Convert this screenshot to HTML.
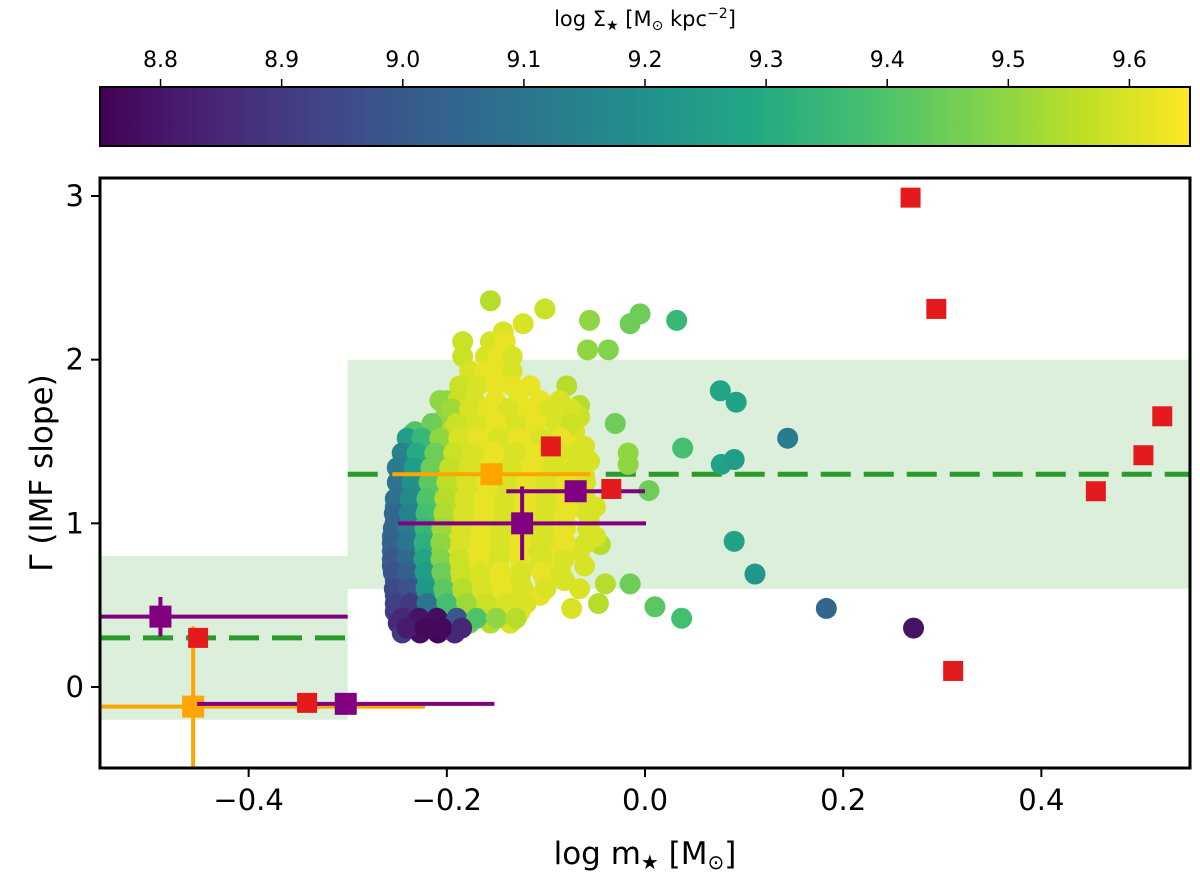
<!DOCTYPE html>
<html><head><meta charset="utf-8"><style>
html,body{margin:0;padding:0;background:#fff;}
svg{display:block;font-family:"DejaVu Sans","Liberation Sans",sans-serif;}
</style></head><body>
<svg id="chart" width="1200" height="878" viewBox="0 0 1200 878" xmlns="http://www.w3.org/2000/svg">
<defs>
<linearGradient id="viridis" x1="0" x2="1" y1="0" y2="0">
<stop offset="0" stop-color="#440154"/><stop offset="0.1" stop-color="#482475"/><stop offset="0.2" stop-color="#414487"/><stop offset="0.3" stop-color="#355f8d"/><stop offset="0.4" stop-color="#2a788e"/><stop offset="0.5" stop-color="#21918c"/><stop offset="0.6" stop-color="#22a884"/><stop offset="0.7" stop-color="#44bf70"/><stop offset="0.8" stop-color="#7ad151"/><stop offset="0.9" stop-color="#bddf26"/><stop offset="1" stop-color="#fde725"/>
</linearGradient>
<clipPath id="plotclip"><rect x="100" y="178" width="1090" height="590"/></clipPath>
</defs>
<g id="cbar"></g>
<g id="plot"></g>
<g id="axes"></g>
</svg>
<script>
// axis ranges
const xDomain = [-0.55, 0.55];
const yDomain = [-0.495, 3.11];
const cDomain = [8.75, 9.65];
const xTicks = [-0.4, -0.2, 0.0, 0.2, 0.4];
const xTickLabels = ["\u22120.4", "\u22120.2", "0.0", "0.2", "0.4"];
const yTicks = [0, 1, 2, 3];
const yTickLabels = ["0", "1", "2", "3"];
const cTicks = [8.8, 8.9, 9.0, 9.1, 9.2, 9.3, 9.4, 9.5, 9.6];
const cTickLabels = ["8.8","8.9","9.0","9.1","9.2","9.3","9.4","9.5","9.6"];

// shaded bands
const bandX0 = [-0.55, -0.3];
const bandX1 = [-0.3, 0.55];
const bandY0 = [-0.2, 0.6];
const bandY1 = [0.8, 2.0];
const dashLevel = [0.3, 1.3];

// scatter points
const gX = [
-0.156,-0.101,-0.056,-0.005,-0.015,0.032,-0.123,-0.143,-0.058,-0.037,-0.184,
0.076,0.092,0.144,0.077,0.090,0.038,0.090,0.111,0.183,0.271,0.010,0.037,0.004,
-0.017,-0.017,-0.030,-0.040,-0.047,-0.066,-0.074,-0.045,-0.015,
-0.234,-0.237,-0.200,-0.079,-0.066,
-0.156,-0.141,-0.184,
-0.161,-0.148,-0.134,
-0.177,-0.161,-0.146,-0.134,
-0.187,-0.169,-0.151,-0.134,-0.116,
-0.207,-0.189,-0.172,-0.151,-0.128,-0.106,-0.086,
-0.202,-0.185,-0.166,-0.146,-0.126,-0.101,-0.081,-0.066,
-0.232,-0.197,-0.177,-0.156,-0.136,-0.116,-0.086,-0.071,
-0.237,-0.222,-0.202,-0.182,-0.161,-0.141,-0.121,-0.096,-0.076,-0.061,
-0.242,-0.227,-0.207,-0.187,-0.166,-0.146,-0.126,-0.101,-0.076,-0.056,
-0.247,-0.229,-0.212,-0.192,-0.172,-0.151,-0.131,-0.106,-0.086,-0.061,
-0.247,-0.232,-0.215,-0.197,-0.177,-0.156,-0.136,-0.111,-0.091,-0.071,
-0.252,-0.235,-0.219,-0.199,-0.179,-0.156,-0.136,-0.116,-0.096,-0.071,-0.050,
-0.252,-0.237,-0.222,-0.202,-0.182,-0.161,-0.141,-0.121,-0.101,-0.081,-0.056,
-0.255,-0.239,-0.222,-0.205,-0.187,-0.166,-0.146,-0.126,-0.106,-0.086,-0.050,
-0.255,-0.239,-0.223,-0.207,-0.189,-0.169,-0.148,-0.128,-0.108,-0.088,-0.066,
-0.255,-0.239,-0.222,-0.207,-0.189,-0.169,-0.148,-0.126,-0.106,-0.086,-0.061,
-0.252,-0.237,-0.219,-0.202,-0.185,-0.166,-0.146,-0.126,-0.101,-0.081,
-0.252,-0.237,-0.222,-0.202,-0.185,-0.169,-0.148,-0.128,-0.106,
-0.252,-0.235,-0.217,-0.197,-0.182,-0.164,-0.146,-0.126,
-0.249,-0.232,-0.215,-0.199,-0.177,-0.156,-0.136,
-0.245,-0.227,-0.209,-0.192,
-0.195,-0.177,-0.158,-0.138,-0.117,-0.096,-0.075,
-0.215,-0.190,-0.170,-0.150,-0.130,-0.110,-0.090,-0.075,
-0.240,-0.225,-0.207,-0.188,-0.168,-0.148,-0.128,-0.105,-0.085,
-0.245,-0.230,-0.212,-0.193,-0.173,-0.152,-0.131,-0.110,-0.088,-0.068,
-0.250,-0.233,-0.216,-0.197,-0.177,-0.156,-0.136,-0.114,-0.092,-0.070,
-0.250,-0.235,-0.218,-0.200,-0.180,-0.160,-0.140,-0.120,-0.100,-0.080,-0.060,
-0.252,-0.237,-0.220,-0.202,-0.182,-0.162,-0.142,-0.122,-0.100,-0.080,-0.060,
-0.253,-0.238,-0.221,-0.203,-0.183,-0.163,-0.143,-0.123,-0.101,-0.080,-0.058,
-0.254,-0.239,-0.222,-0.205,-0.185,-0.165,-0.145,-0.124,-0.102,-0.080,-0.058,
-0.255,-0.240,-0.223,-0.206,-0.186,-0.166,-0.146,-0.125,-0.103,-0.080,-0.060,
-0.255,-0.240,-0.223,-0.206,-0.187,-0.167,-0.147,-0.126,-0.104,-0.082,
-0.254,-0.239,-0.222,-0.205,-0.186,-0.166,-0.146,-0.125,-0.104,-0.085,
-0.253,-0.238,-0.221,-0.203,-0.184,-0.164,-0.144,-0.123,-0.100,
-0.252,-0.237,-0.220,-0.200,-0.180,-0.160,-0.140,-0.120,
-0.245,-0.228,-0.210,-0.190,-0.170,-0.150,-0.130,
-0.240,-0.222,-0.205,-0.185
];
const gY = [
2.36,2.31,2.24,2.28,2.22,2.24,2.22,2.17,2.06,2.06,2.02,
1.81,1.74,1.52,1.36,1.39,1.46,0.89,0.69,0.48,0.36,0.49,0.42,1.20,
1.43,1.36,1.61,0.63,0.51,0.60,0.48,0.87,0.63,
1.55,1.37,1.75,1.84,1.72,
2.11,2.11,2.11,
2.02,2.02,2.02,
1.93,1.93,1.93,1.93,
1.84,1.84,1.84,1.84,1.84,
1.75,1.75,1.75,1.75,1.75,1.75,1.75,
1.65,1.65,1.65,1.65,1.65,1.65,1.65,1.65,
1.56,1.56,1.56,1.56,1.56,1.56,1.56,1.56,
1.47,1.47,1.47,1.47,1.47,1.47,1.47,1.47,1.47,1.47,
1.38,1.38,1.38,1.38,1.38,1.38,1.38,1.38,1.38,1.38,
1.29,1.29,1.29,1.29,1.29,1.29,1.29,1.29,1.29,1.29,
1.20,1.20,1.20,1.20,1.20,1.20,1.20,1.20,1.20,1.20,
1.10,1.10,1.10,1.10,1.10,1.10,1.10,1.10,1.10,1.10,1.10,
1.01,1.01,1.01,1.01,1.01,1.01,1.01,1.01,1.01,1.01,1.01,
0.92,0.92,0.92,0.92,0.92,0.92,0.92,0.92,0.92,0.92,0.92,
0.83,0.83,0.83,0.83,0.83,0.83,0.83,0.83,0.83,0.83,0.83,
0.74,0.74,0.74,0.74,0.74,0.74,0.74,0.74,0.74,0.74,0.74,
0.65,0.65,0.65,0.65,0.65,0.65,0.65,0.65,0.65,0.65,
0.56,0.56,0.56,0.56,0.56,0.56,0.56,0.56,0.56,
0.46,0.46,0.46,0.46,0.46,0.46,0.46,0.46,
0.39,0.39,0.39,0.39,0.39,0.39,0.39,
0.33,0.33,0.33,0.33,
1.70,1.70,1.70,1.70,1.70,1.70,1.70,
1.61,1.61,1.61,1.61,1.61,1.61,1.61,1.61,
1.52,1.52,1.52,1.52,1.52,1.52,1.52,1.52,1.52,
1.43,1.43,1.43,1.43,1.43,1.43,1.43,1.43,1.43,1.43,
1.34,1.34,1.34,1.34,1.34,1.34,1.34,1.34,1.34,1.34,
1.25,1.25,1.25,1.25,1.25,1.25,1.25,1.25,1.25,1.25,1.25,
1.15,1.15,1.15,1.15,1.15,1.15,1.15,1.15,1.15,1.15,1.15,
1.06,1.06,1.06,1.06,1.06,1.06,1.06,1.06,1.06,1.06,1.06,
0.97,0.97,0.97,0.97,0.97,0.97,0.97,0.97,0.97,0.97,0.97,
0.88,0.88,0.88,0.88,0.88,0.88,0.88,0.88,0.88,0.88,0.88,
0.78,0.78,0.78,0.78,0.78,0.78,0.78,0.78,0.78,0.78,
0.70,0.70,0.70,0.70,0.70,0.70,0.70,0.70,0.70,0.70,
0.60,0.60,0.60,0.60,0.60,0.60,0.60,0.60,0.60,
0.51,0.51,0.51,0.51,0.51,0.51,0.51,0.51,
0.42,0.42,0.42,0.42,0.42,0.42,0.42,
0.36,0.36,0.36,0.36
];
const gC = [
9.55,9.58,9.5,9.45,9.45,9.35,9.6,9.6,9.5,9.48,9.58,
9.28,9.27,9.12,9.27,9.25,9.38,9.27,9.22,9.05,8.8,9.42,9.38,9.45,
9.5,9.5,9.45,9.55,9.55,9.6,9.6,9.55,9.45,
9.4,9.3,9.5,9.55,9.55,
9.6,9.62,9.58,
9.6,9.62,9.6,
9.6,9.62,9.62,9.6,
9.58,9.6,9.62,9.62,9.62,
9.5,9.58,9.6,9.62,9.62,9.62,9.6,
9.5,9.58,9.6,9.62,9.62,9.62,9.6,9.58,
9.4,9.55,9.6,9.62,9.6,9.62,9.6,9.6,
9.3,9.42,9.52,9.6,9.62,9.6,9.62,9.6,9.62,9.6,
9.2,9.35,9.5,9.6,9.62,9.6,9.62,9.6,9.62,9.6,
9.15,9.3,9.48,9.58,9.6,9.62,9.6,9.62,9.6,9.6,
9.12,9.25,9.45,9.56,9.6,9.62,9.6,9.62,9.6,9.62,
9.1,9.2,9.42,9.56,9.6,9.62,9.6,9.62,9.6,9.62,9.6,
9.08,9.15,9.38,9.55,9.6,9.62,9.6,9.62,9.6,9.62,9.6,
9.08,9.12,9.35,9.52,9.6,9.62,9.6,9.62,9.6,9.62,9.6,
9.05,9.1,9.3,9.5,9.6,9.62,9.6,9.62,9.6,9.62,9.6,
9.02,9.08,9.28,9.48,9.58,9.62,9.6,9.62,9.6,9.62,9.6,
9.0,9.02,9.25,9.45,9.58,9.6,9.62,9.6,9.62,9.6,
8.95,8.95,9.2,9.42,9.55,9.6,9.62,9.6,9.62,
8.9,8.85,8.85,9.35,9.5,9.58,9.6,9.62,
8.85,8.8,8.78,8.8,9.45,9.55,9.6,
8.9,8.78,8.76,8.85,
9.52,9.6,9.62,9.6,9.62,9.6,9.6,
9.45,9.58,9.6,9.62,9.6,9.62,9.6,9.58,
9.25,9.35,9.5,9.6,9.62,9.6,9.62,9.6,9.62,
9.15,9.3,9.45,9.58,9.6,9.62,9.6,9.62,9.6,9.6,
9.12,9.25,9.45,9.57,9.6,9.62,9.6,9.62,9.6,9.6,
9.1,9.2,9.42,9.56,9.6,9.62,9.6,9.62,9.6,9.62,9.6,
9.08,9.18,9.4,9.55,9.6,9.62,9.6,9.62,9.6,9.62,9.6,
9.05,9.15,9.38,9.54,9.6,9.62,9.6,9.62,9.6,9.62,9.6,
9.05,9.12,9.35,9.52,9.6,9.62,9.6,9.62,9.6,9.62,9.6,
9.03,9.1,9.32,9.5,9.6,9.62,9.6,9.62,9.6,9.62,9.6,
9.0,9.06,9.28,9.48,9.58,9.62,9.6,9.62,9.6,9.6,
8.98,9.03,9.25,9.45,9.58,9.6,9.62,9.6,9.62,9.6,
8.95,8.98,9.22,9.42,9.55,9.6,9.62,9.6,9.6,
8.92,8.9,9.1,9.38,9.52,9.58,9.6,9.6,
8.85,8.8,8.78,9.0,9.4,9.5,9.55,
8.82,8.77,8.77,8.85
];

// red squares
const redX = [-0.451,-0.341,-0.095,-0.034,0.268,0.294,0.311,0.455,0.503,0.522];
const redY = [0.30,-0.097,1.47,1.21,2.99,2.31,0.098,1.196,1.416,1.654];

// orange error bar points
const orX = [-0.155, -0.456];
const orY = [1.30, -0.12];
const orXErr = [0.10, 0.234];
const orYErr = [0.0, 0.49];

// purple error bar points
const puX = [-0.124, -0.070, -0.489, -0.302];
const puY = [1.00, 1.196, 0.43, -0.103];
const puXErr = [0.125, 0.07, 0.189, 0.15];
const puYErr = [0.225, 0.0, 0.12, 0.0];

const NS = "http://www.w3.org/2000/svg";
const PL = 100, PR = 1190, PT = 178, PB = 768;
function sx(v){ return PL + (v - xDomain[0]) / (xDomain[1]-xDomain[0]) * (PR-PL); }
function sy(v){ return PB - (v - yDomain[0]) / (yDomain[1]-yDomain[0]) * (PB-PT); }
function sc(v){ return PL + (v - cDomain[0]) / (cDomain[1]-cDomain[0]) * (PR-PL); }
const vir = ["#440154","#482475","#414487","#355f8d","#2a788e","#21918c","#22a884","#44bf70","#7ad151","#bddf26","#fde725"];
function hex(h){ return [parseInt(h.substr(1,2),16),parseInt(h.substr(3,2),16),parseInt(h.substr(5,2),16)]; }
function cmap(v){
  let t = (v - cDomain[0]) / (cDomain[1]-cDomain[0]);
  t = Math.max(0, Math.min(1, t)) * 10;
  const i = Math.min(9, Math.floor(t)), f = t - i;
  const a = hex(vir[i]), b = hex(vir[i+1]);
  return "rgb(" + a.map((x,k)=>Math.round(x + (b[k]-x)*f)).join(",") + ")";
}
function mk(tag, attrs, parent){
  const e = document.createElementNS(NS, tag);
  for (const k in attrs) e.setAttribute(k, attrs[k]);
  parent.appendChild(e); return e;
}
const plot = document.getElementById("plot");
const axes = document.getElementById("axes");
const cbar = document.getElementById("cbar");
const clipG = mk("g", {"clip-path":"url(#plotclip)"}, plot);

for (let i=0;i<bandX0.length;i++){
  const r = mk("rect", {x:sx(bandX0[i]), y:sy(bandY1[i]), width:sx(bandX1[i])-sx(bandX0[i]), height:sy(bandY0[i])-sy(bandY1[i]), fill:"#2ca02c", "fill-opacity":"0.17"}, clipG);
  
  
  const l = mk("line", {x1:sx(bandX0[i]), x2:sx(bandX1[i]), y1:sy(dashLevel[i]), y2:sy(dashLevel[i]), stroke:"#2a9a2a", "stroke-width":"5", "stroke-dasharray":"30 13"}, clipG);
  
  
}
for (let i=0;i<gX.length;i++){
  const c = mk("circle", {cx:sx(gX[i]), cy:sy(gY[i]), r:"10.5", fill:cmap(gC[i])}, clipG);
  
  
}
function errPoint(x,y,xe,ye,col,name){
  const g = mk("g", {}, clipG);
  
  
  mk("line", {x1:sx(x-xe), x2:sx(x+xe), y1:sy(y), y2:sy(y), stroke:col, "stroke-width":"4"}, g);
  if (ye>0) mk("line", {x1:sx(x), x2:sx(x), y1:sy(y-ye), y2:sy(y+ye), stroke:col, "stroke-width":"4"}, g);
  mk("rect", {x:sx(x)-11, y:sy(y)-11, width:22, height:22, fill:col}, g);
}
for (let i=0;i<orX.length;i++) errPoint(orX[i],orY[i],orXErr[i],orYErr[i],"#ffa500","orange-measurement");
for (let i=0;i<puX.length;i++) errPoint(puX[i],puY[i],puXErr[i],puYErr[i],"#800080","purple-measurement");
for (let i=0;i<redX.length;i++){
  const r = mk("rect", {x:sx(redX[i])-10, y:sy(redY[i])-10, width:20, height:20, fill:"#e41a1c"}, clipG);
  
  
}
const fr = mk("rect", {x:PL, y:PT, width:PR-PL, height:PB-PT, fill:"none", stroke:"#000", "stroke-width":"3"}, axes);


for (let i=0;i<xTicks.length;i++){
  const x = sx(xTicks[i]);
  mk("line", {x1:x, x2:x, y1:PB, y2:PB+9, stroke:"#000", "stroke-width":"2"}, axes);
  const t = mk("text", {x:x, y:PB+42, "text-anchor":"middle", "font-size":"29"}, axes);
  
  
  t.textContent = xTickLabels[i];
}
for (let i=0;i<yTicks.length;i++){
  const y = sy(yTicks[i]);
  mk("line", {x1:PL-9, x2:PL, y1:y, y2:y, stroke:"#000", "stroke-width":"2"}, axes);
  const t = mk("text", {x:PL-16, y:y+10, "text-anchor":"end", "font-size":"29"}, axes);
  
  
  t.textContent = yTickLabels[i];
}
const xl = mk("text", {x:645, y:864, "text-anchor":"middle", "font-size":"31"}, axes);


xl.innerHTML = 'log m<tspan font-size="20" dy="5">\u2605</tspan><tspan dy="-5"> [M</tspan><tspan font-size="20" dy="5">\u2299</tspan><tspan dy="-5">]</tspan>';
const yl = mk("text", {x:0, y:0, "text-anchor":"middle", "font-size":"31", transform:"translate(52,473) rotate(-90)"}, axes);


yl.textContent = "\u0393 (IMF slope)";
const cb = mk("rect", {x:PL, y:87, width:PR-PL, height:59, fill:"url(#viridis)", stroke:"#000", "stroke-width":"2"}, cbar);


for (let i=0;i<cTicks.length;i++){
  const x = sc(cTicks[i]);
  mk("line", {x1:x, x2:x, y1:79, y2:87, stroke:"#000", "stroke-width":"1.5"}, cbar);
  const t = mk("text", {x:x, y:67, "text-anchor":"middle", "font-size":"22"}, cbar);
  
  
  t.textContent = cTickLabels[i];
}
const ct = mk("text", {x:645, y:26, "text-anchor":"middle", "font-size":"21"}, cbar);


ct.innerHTML = 'log \u03A3<tspan font-size="14" dy="4">\u2605</tspan><tspan dy="-4"> [M</tspan><tspan font-size="14" dy="4">\u2299</tspan><tspan dy="-4"> kpc</tspan><tspan font-size="14" dy="-8">\u22122</tspan><tspan dy="8">]</tspan>';
</script>
</body></html>
